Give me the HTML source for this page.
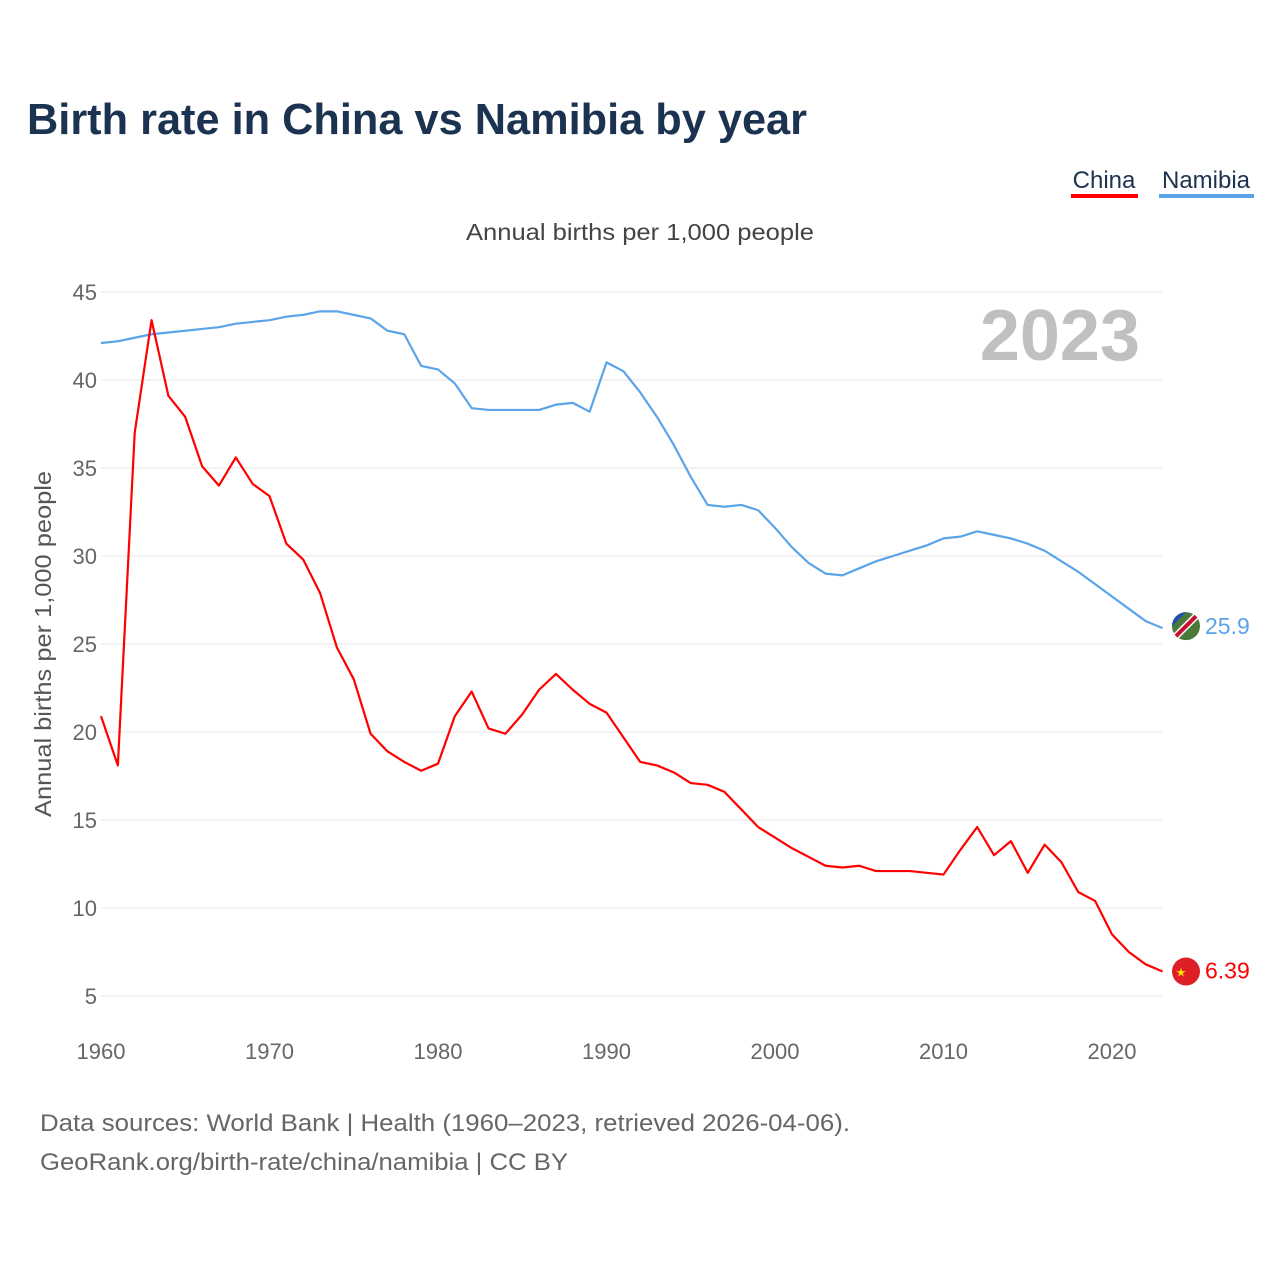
<!DOCTYPE html>
<html><head><meta charset="utf-8">
<style>
body{margin:0;background:#fff;font-family:"Liberation Sans",sans-serif;}
svg text{font-family:"Liberation Sans",sans-serif;}
</style></head><body>
<svg id="chart" width="1280" height="1280">
<text x="27" y="134" font-size="44" font-weight="bold" fill="#1b3350" textLength="780" lengthAdjust="spacingAndGlyphs">Birth rate in China vs Namibia by year</text>
<g>
<text x="1104" y="188" font-size="24" fill="#1b3350" text-anchor="middle">China</text>
<rect x="1071" y="194" width="67" height="4" fill="#ff0000"/>
<text x="1206" y="188" font-size="24" fill="#1b3350" text-anchor="middle">Namibia</text>
<rect x="1159" y="194" width="95" height="4" fill="#5ba4ea"/>
</g>
<text x="640" y="240" font-size="23" fill="#444" text-anchor="middle" textLength="348" lengthAdjust="spacingAndGlyphs">Annual births per 1,000 people</text>
<text x="1140" y="360" font-size="72" font-weight="bold" fill="#c0c0c0" text-anchor="end">2023</text>
<text transform="translate(51,644) rotate(-90)" font-size="23" fill="#555" text-anchor="middle" textLength="346" lengthAdjust="spacingAndGlyphs">Annual births per 1,000 people</text>
<g id="grid"></g><g id="lines"></g><g id="ends"></g>
<text x="40" y="1131" font-size="24" fill="#666" textLength="810" lengthAdjust="spacingAndGlyphs">Data sources: World Bank | Health (1960–2023, retrieved 2026-04-06).</text>
<text x="40" y="1170" font-size="24" fill="#666" textLength="528" lengthAdjust="spacingAndGlyphs">GeoRank.org/birth-rate/china/namibia | CC BY</text>
</svg>
<script>
const years=[];for(let y=1960;y<=2023;y++)years.push(y);
const china=[20.9,18.1,37.0,43.4,39.1,37.9,35.1,34.0,35.6,34.1,33.4,30.7,29.8,27.9,24.8,23.0,19.9,18.9,18.3,17.8,18.2,20.9,22.3,20.2,19.9,21.0,22.4,23.3,22.4,21.6,21.1,19.7,18.3,18.1,17.7,17.1,17.0,16.6,15.6,14.6,14.0,13.4,12.9,12.4,12.3,12.4,12.1,12.1,12.1,12.0,11.9,13.3,14.6,13.0,13.8,12.0,13.6,12.6,10.9,10.4,8.5,7.5,6.8,6.39];
const namibia=[42.1,42.2,42.4,42.6,42.7,42.8,42.9,43.0,43.2,43.3,43.4,43.6,43.7,43.9,43.9,43.7,43.5,42.8,42.6,40.8,40.6,39.8,38.4,38.3,38.3,38.3,38.3,38.6,38.7,38.2,41.0,40.5,39.3,37.9,36.3,34.5,32.9,32.8,32.9,32.6,31.6,30.5,29.6,29.0,28.9,29.3,29.7,30.0,30.3,30.6,31.0,31.1,31.4,31.2,31.0,30.7,30.3,29.7,29.1,28.4,27.7,27.0,26.3,25.9];
const yTicks=[5,10,15,20,25,30,35,40,45];
const xTicks=[1960,1970,1980,1990,2000,2010,2020];
const X=y=>101+(y-1960)*16.85;
const Y=v=>996-(v-5)*17.6;
const NS="http://www.w3.org/2000/svg";
function mk(tag,attrs,parent,txt){const e=document.createElementNS(NS,tag);for(const k in attrs)e.setAttribute(k,attrs[k]);if(txt!==undefined)e.textContent=txt;parent.appendChild(e);return e;}
const grid=document.getElementById('grid');
yTicks.forEach(t=>{
 const l=mk('line',{x1:101,x2:1162,y1:Y(t),y2:Y(t),stroke:'#e4e4e4','stroke-width':1},grid);
 
 
 const tx=mk('text',{x:97,y:Y(t)+8,'font-size':22,fill:'#666','text-anchor':'end'},grid,t);
 
 
});
xTicks.forEach(t=>{
 const tx=mk('text',{x:X(t),y:1059,'font-size':22,fill:'#666','text-anchor':'middle'},grid,t);
 
 
});
const lines=document.getElementById('lines');
function line(data,color,name){
 const p=mk('polyline',{points:data.map((v,i)=>X(years[i])+','+Y(v)).join(' '),fill:'none',stroke:color,'stroke-width':2.2,'stroke-linejoin':'round'},lines);
 
 
}
line(namibia,'#5ba4ea','namibia-line');
line(china,'#ff0000','china-line');
const ends=document.getElementById('ends');
const lastN=namibia[namibia.length-1], lastC=china[china.length-1];
const cyN=Y(lastN)-2;
const g1=mk('g',{},ends);


mk('circle',{cx:1186,cy:cyN,r:14,fill:'#4a7a3a'},g1);
mk('path',{d:`M1172,${cyN} A14,14 0 0 1 1186,${cyN-14} L1172,${cyN}Z`,fill:'#1f4fb0'},g1);
mk('line',{x1:1176,y1:cyN+10,x2:1196,y2:cyN-10,stroke:'#fff','stroke-width':7},g1);
mk('line',{x1:1176,y1:cyN+10,x2:1196,y2:cyN-10,stroke:'#c8102e','stroke-width':4},g1);
const t1=mk('text',{x:1205,y:cyN+8,'font-size':23,fill:'#5ba4ea'},ends,String(lastN));


const g2=mk('g',{},ends);


mk('circle',{cx:1186,cy:Y(lastC),r:14,fill:'#de1f26'},g2);
mk('text',{x:1181,y:Y(lastC)+5,'font-size':12,fill:'#ffde00','text-anchor':'middle'},g2,'★');
const t2=mk('text',{x:1205,y:Y(lastC)+7,'font-size':23,fill:'#ff0000'},ends,String(lastC));


</script>
</body></html>
